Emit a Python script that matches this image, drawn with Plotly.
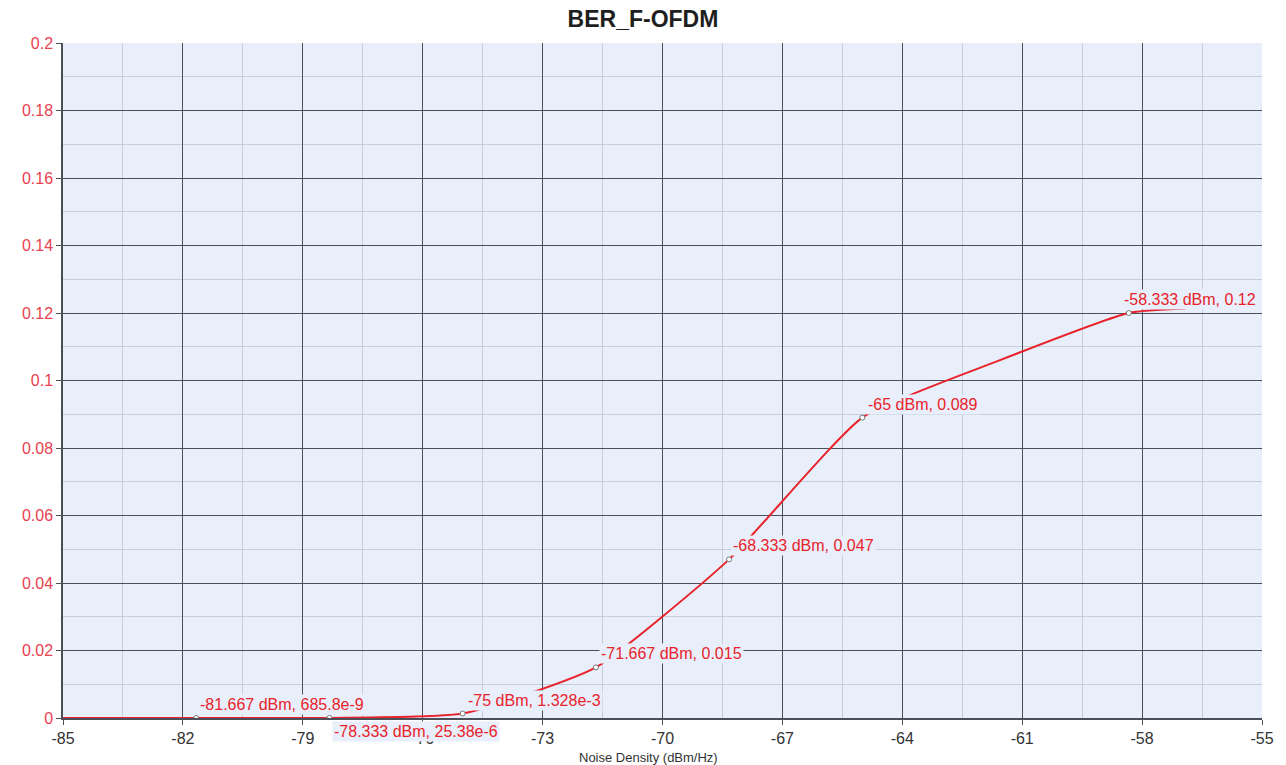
import plotly.graph_objects as go

# Swept noise density (dBm/Hz) and measured bit error rate
sweep_x = [-85, -81.667, -78.333, -75, -71.667, -68.333, -65, -61.667, -58.333, -56.9]
sweep_ber = [0.0, 685.8e-9, 25.38e-6, 1.328e-3, 0.015, 0.047, 0.089, 0.1055, 0.12, 0.1213]

# Marked points with their value labels
mark_x = [-81.667, -78.333, -75, -71.667, -68.333, -65, -58.333]
mark_ber = [685.8e-9, 25.38e-6, 1.328e-3, 0.015, 0.047, 0.089, 0.12]
mark_text = ["-81.667 dBm, 685.8e-9", "-78.333 dBm, 25.38e-6", "-75 dBm, 1.328e-3",
             "-71.667 dBm, 0.015", "-68.333 dBm, 0.047", "-65 dBm, 0.089",
             "-58.333 dBm, 0.12"]
label_below = [False, True, False, False, False, False, False]
label_dx = [2, 3, 3, 3, 2, 4, -7]

x_ticks = list(range(-85, -54, 3))
y_ticks = [round(i * 0.02, 2) for i in range(11)]

RED = "#e8232b"
PLOT_BG = "#e8eefa"
MAJOR = "#4b4f58"
MINOR = "#c6cedd"
FONT = "Liberation Sans, Arial"

fig = go.Figure()
fig.add_trace(go.Scatter(
    x=sweep_x, y=sweep_ber, mode="lines",
    line=dict(color=RED, width=2, shape="spline", smoothing=0.5),
    hoverinfo="skip", showlegend=False,
))
fig.add_trace(go.Scatter(
    x=mark_x, y=mark_ber, mode="markers",
    marker=dict(symbol="circle", size=5, color="white",
                line=dict(color="#777777", width=1)),
    showlegend=False,
))

for x, y, txt, below, dx in zip(mark_x, mark_ber, mark_text, label_below, label_dx):
    fig.add_annotation(
        x=x, y=y, text=txt, showarrow=False,
        xanchor="left", yanchor="top" if below else "bottom",
        xshift=dx, yshift=-3 if below else 3,
        font=dict(family=FONT, size=16, color=RED),
        bgcolor=PLOT_BG, borderpad=1,
    )

fig.add_annotation(
    x=0.488, y=-0.045, xref="paper", yref="paper",
    text="Noise Density (dBm/Hz)", showarrow=False,
    xanchor="center", yanchor="top",
    font=dict(family=FONT, size=13, color="#333333"),
)

fig.update_layout(
    width=1286, height=765,
    paper_bgcolor="white", plot_bgcolor=PLOT_BG,
    margin=dict(l=63, r=14, t=43, b=47),
    title=dict(text="<b>BER_F-OFDM</b>", x=0.5, xanchor="center",
               y=0.975, yanchor="middle",
               font=dict(family=FONT, size=23, color="#1e1e1e")),
    showlegend=False,
)
fig.update_xaxes(
    range=[-85, -55], tickvals=x_ticks, ticktext=[str(v) for v in x_ticks],
    showgrid=True, gridcolor=MAJOR, gridwidth=1.2,
    minor=dict(tick0=-85, dtick=1.5, showgrid=True, gridcolor=MINOR, gridwidth=1),
    showline=True, linecolor=MAJOR, linewidth=1.5, mirror=False,
    ticks="outside", ticklen=5, tickcolor=MAJOR,
    tickfont=dict(family=FONT, size=16, color="#333333"),
    zeroline=False,
)
fig.update_yaxes(
    range=[0, 0.2], tickvals=y_ticks, ticktext=[f"{v:g}" for v in y_ticks],
    showgrid=True, gridcolor=MAJOR, gridwidth=1.2,
    minor=dict(tick0=0, dtick=0.01, showgrid=True, gridcolor=MINOR, gridwidth=1),
    showline=True, linecolor=MAJOR, linewidth=1.5,
    ticks="outside", ticklen=5, tickcolor=MAJOR,
    tickfont=dict(family=FONT, size=16, color="#e8414f"),
    zeroline=False,
)

fig.write_html("out.html")
